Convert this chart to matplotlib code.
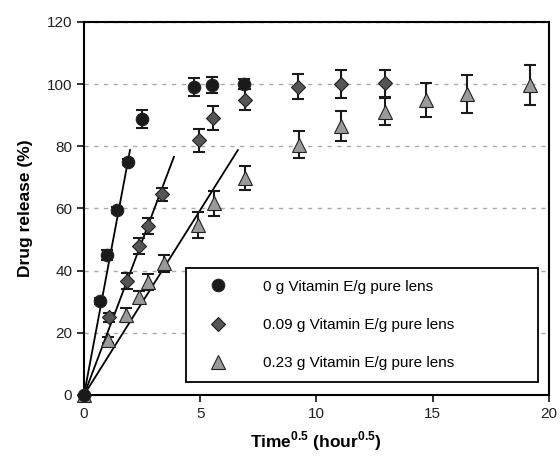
import numpy as np
import matplotlib.pyplot as plt

plt.rcParams['font.family'] = ['Liberation Sans', 'DejaVu Sans']
plt.rcParams['mathtext.fontset'] = 'custom'
plt.rcParams['mathtext.rm'] = 'Liberation Sans'
plt.rcParams['mathtext.bf'] = 'Liberation Sans:bold'

# 0 g Vitamin E
x0 = [0, 0.69, 0.99, 1.42, 1.89, 2.49, 4.73, 5.5, 6.9]
y0 = [0, 30.2, 45, 59.5, 75, 88.8, 99, 99.7, 100]
e0 = [0, 1.0, 1.5, 1.0, 1.0, 2.9, 2.9, 2.6, 1.5]

# 0.09 g Vitamin E
x1 = [0, 1.06, 1.85, 2.37, 2.76, 3.35, 4.95, 5.55, 6.92, 9.2, 11.05, 12.95]
y1 = [0, 25, 36.8, 48, 54.3, 64.5, 82, 89, 95, 99.2, 100, 100.3]
e1 = [0, 1.5, 2.6, 2.6, 2.6, 2.0, 3.7, 3.9, 3.4, 4.0, 4.5, 4.3]

# 0.23 g Vitamin E
x2 = [0, 1.05, 1.81, 2.37, 2.75, 3.44, 4.9, 5.6, 6.92, 9.25, 11.05, 12.95, 14.7, 16.5, 19.2]
y2 = [0, 17.7, 25.7, 31.5, 36.3, 42.4, 54.7, 61.7, 69.8, 80.5, 86.5, 91.2, 94.8, 96.8, 99.8]
e2 = [0, 1.0, 2.2, 2.0, 2.5, 2.7, 4.3, 4.0, 4.0, 4.3, 4.8, 4.5, 5.5, 6.0, 6.5]

# linear fits through origin: slope, end of line
slopes = [39.8, 19.8, 11.9]
x_end = [1.98, 3.87, 6.62]

labels = ['0 g Vitamin E/g pure lens',
          '0.09 g Vitamin E/g pure lens',
          '0.23 g Vitamin E/g pure lens']
markers = ['o', 'D', '^']
colors = ['#1a1a1a', '#555555', '#9a9a9a']
sizes = [9, 7.5, 10]

fig = plt.figure(figsize=(5.6, 4.58), dpi=100)
ax = fig.add_axes([0.15, 0.1376, 0.83, 0.8144])

for k, xe in zip(slopes, x_end):
    xs = np.array([0, xe])
    ax.plot(xs, k * xs, color='black', lw=1.3, zorder=2)

series = [(x0, y0, e0), (x1, y1, e1), (x2, y2, e2)]
for i, (xs, ys, es) in enumerate(series):
    ax.errorbar(xs, ys, yerr=es, fmt='none', ecolor='#1a1a1a', elinewidth=1.5,
                capsize=4, capthick=1.5, zorder=3)
for i in [2, 1, 0]:
    xs, ys, es = series[i]
    ax.plot(xs, ys, linestyle='none', marker=markers[i], ms=sizes[i],
            mfc=colors[i], mec='#222222', mew=0.8, label=labels[i],
            zorder=4 + (2 - i), clip_on=False)

ax.set_xlim(0, 20)
ax.set_ylim(0, 120)
ax.set_xticks([0, 5, 10, 15, 20])
ax.set_yticks([0, 20, 40, 60, 80, 100, 120])
ax.yaxis.grid(True, linestyle=(0, (3, 4)), color='#aaaaaa', lw=1)
ax.set_axisbelow(True)
for s in ax.spines.values():
    s.set_linewidth(1.5)
    s.set_zorder(1)
ax.tick_params(labelsize=11, length=5, width=1.3, colors='#222222')

ax.set_xlabel(r'Time$^{\mathbf{0.5}}$ (hour$^{\mathbf{0.5}}$)', fontsize=12.5,
              fontweight='bold', labelpad=6)
ax.set_ylabel('Drug release (%)', fontsize=12.5, fontweight='bold', labelpad=10)

h, l = ax.get_legend_handles_labels()
leg = ax.legend(h[::-1], l[::-1], loc='lower left',
                bbox_to_anchor=(0.219, 0.035, 0.757, 0.314), mode='expand',
                borderaxespad=0, fontsize=11, labelspacing=1.6, borderpad=0.75,
                handlelength=2.7, handletextpad=1.6, fancybox=False,
                edgecolor='black', framealpha=1)
leg.get_frame().set_linewidth(1.3)

fig.savefig('out.png', dpi=100)
